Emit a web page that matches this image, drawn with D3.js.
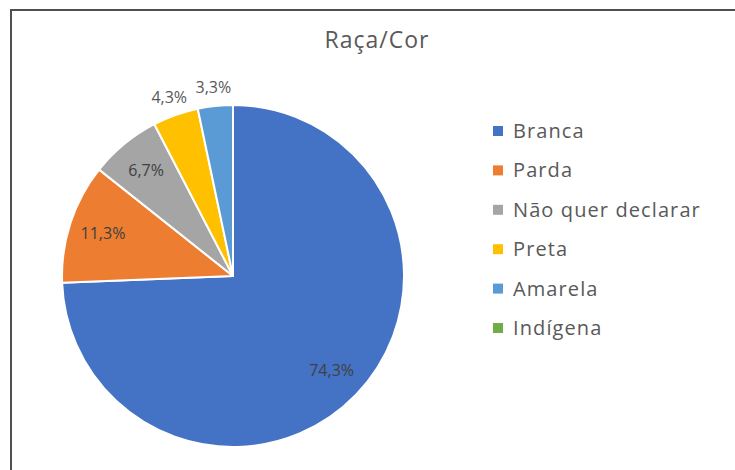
<!DOCTYPE html>
<html>
<head>
<meta charset="utf-8">
<script src="https://cdn.jsdelivr.net/npm/d3@7"></script>
<style>
  html, body { margin: 0; padding: 0; background: #fff; }
  svg { display: block; }
</style>
</head>
<body>
<script>
const categories = ["Branca", "Parda", "Não quer declarar", "Preta", "Amarela", "Indígena"];
const values = [74.3, 11.3, 6.7, 4.3, 3.3, 0];
const labels = ["74,3%", "11,3%", "6,7%", "4,3%", "3,3%", ""];
const colors = ["#4472C4", "#ED7D31", "#A5A5A5", "#FFC000", "#5B9BD5", "#70AD47"];
const title = "Raça/Cor";

const W = 735, H = 470;
const svg = d3.select("body").append("svg").attr("width", W).attr("height", H);
const font = "'Open Sans', Lato, sans-serif";

// frame
svg.append("rect").attr("x", 11).attr("y", 10).attr("width", 760).attr("height", 500)
  .attr("fill", "#fff").attr("stroke", "#505050").attr("stroke-width", 2);

svg.append("text").attr("x", 377).attr("y", 48).attr("text-anchor", "middle")
  .attr("font-family", font).attr("font-size", 23).attr("letter-spacing", 1)
  .attr("fill", "#595959").text(title);

const cx = 233, cy = 276, R = 171;
const data = categories.map((c, i) => ({ name: c, value: values[i], label: labels[i], color: colors[i] }));
const pie = d3.pie().value(d => d.value).sort(null);
const arcs = pie(data);
const arc = d3.arc().innerRadius(0).outerRadius(R);
const inArc = d3.arc().innerRadius(R * 0.8).outerRadius(R * 0.8);
const outArc = d3.arc().innerRadius(R * 1.11).outerRadius(R * 1.11);

const g = svg.append("g").attr("transform", `translate(${cx},${cy})`);
g.selectAll("path").data(arcs.filter(a => a.data.value > 0)).join("path")
  .attr("d", arc).attr("fill", d => d.data.color)
  .attr("stroke", "#fff").attr("stroke-width", 2).attr("stroke-linejoin", "round");

g.selectAll("text.lbl").data(arcs.filter(a => a.data.label)).join("text")
  .attr("class", "lbl")
  .attr("transform", d => `translate(${(d.data.value >= 5 ? inArc : outArc).centroid(d)})`)
  .attr("text-anchor", "middle").attr("dy", "0.35em")
  .attr("font-family", font).attr("font-size", 16)
  .attr("fill", d => d.data.value >= 5 ? "#404040" : "#595959")
  .text(d => d.data.label);

// legend
const lg = svg.append("g").attr("transform", "translate(493,131)");
const row = lg.selectAll("g").data(data).join("g")
  .attr("transform", (d, i) => `translate(0,${i * 39.4})`);
row.append("rect").attr("x", 0).attr("y", -5).attr("width", 10).attr("height", 10)
  .attr("fill", d => d.color);
row.append("text").attr("x", 20).attr("y", 0).attr("dy", "0.35em")
  .attr("font-family", font).attr("font-size", 20).attr("letter-spacing", 1.1)
  .attr("fill", "#595959")
  .text(d => d.name);
</script>
</body>
</html>
